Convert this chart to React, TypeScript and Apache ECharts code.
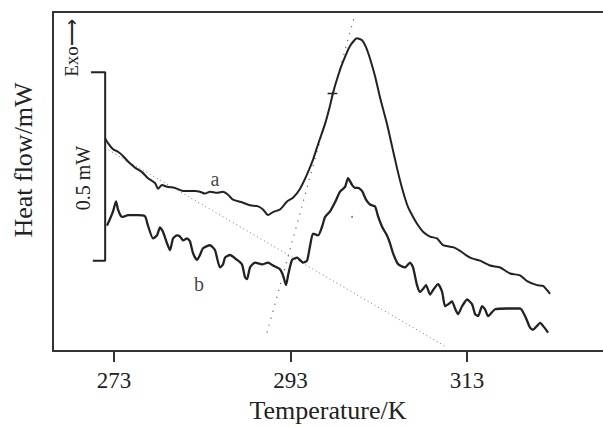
import React, { useEffect, useRef } from "react";
import * as echarts from "echarts";

// Temperature (K), heat flow (mW, arbitrary offset)
const curveA: [number, number][] = [
  [271.98, 0.565], [272.32, 0.552], [272.89, 0.536], [273.45, 0.529], [274.02, 0.518],
  [274.59, 0.503], [275.38, 0.487], [276.17, 0.475], [276.85, 0.459], [277.65, 0.446],
  [277.99, 0.431], [278.44, 0.441], [279.01, 0.436], [279.91, 0.433], [280.82, 0.425],
  [282.18, 0.425], [282.74, 0.423], [283.31, 0.418], [283.88, 0.423], [284.67, 0.420],
  [285.35, 0.423], [285.92, 0.415], [286.48, 0.402], [287.50, 0.395], [288.41, 0.387],
  [289.32, 0.384], [289.88, 0.376], [290.45, 0.361], [291.02, 0.369], [291.81, 0.376],
  [292.60, 0.397], [293.28, 0.407], [294.08, 0.431], [294.87, 0.469], [295.55, 0.508],
  [296.12, 0.549], [296.91, 0.603], [297.48, 0.652], [297.82, 0.686], [298.38, 0.730],
  [298.95, 0.768], [299.74, 0.810], [300.53, 0.830], [301.10, 0.825], [301.55, 0.807],
  [302.01, 0.776], [302.57, 0.730], [303.14, 0.673], [303.93, 0.603], [304.50, 0.544],
  [305.07, 0.485], [305.63, 0.433], [306.20, 0.389], [306.54, 0.371], [307.33, 0.338],
  [308.01, 0.317], [308.81, 0.304], [309.60, 0.299], [310.28, 0.281], [311.41, 0.276],
  [312.21, 0.266], [313.34, 0.248], [314.47, 0.240], [315.61, 0.227], [316.74, 0.222],
  [317.87, 0.206], [319.00, 0.201], [319.80, 0.186], [320.93, 0.175], [321.61, 0.173],
  [322.40, 0.152],
];

const curveB: [number, number][] = [
  [272.21, 0.333], [272.55, 0.351], [272.89, 0.371], [273.23, 0.397], [273.45, 0.376],
  [273.79, 0.358], [274.02, 0.356], [274.59, 0.361], [275.72, 0.361], [276.51, 0.358],
  [276.85, 0.333], [277.42, 0.299], [277.87, 0.307], [278.21, 0.328], [278.55, 0.317],
  [279.01, 0.286], [279.35, 0.268], [279.69, 0.299], [280.14, 0.307], [280.48, 0.304],
  [280.82, 0.294], [281.27, 0.299], [281.61, 0.291], [281.95, 0.260], [282.40, 0.242],
  [282.74, 0.255], [283.08, 0.273], [283.88, 0.281], [284.44, 0.268], [285.01, 0.222],
  [285.35, 0.230], [285.58, 0.248], [286.14, 0.255], [286.94, 0.242], [287.50, 0.230],
  [287.84, 0.196], [288.07, 0.191], [288.41, 0.222], [288.98, 0.235], [289.77, 0.230],
  [290.45, 0.235], [291.02, 0.227], [291.81, 0.217], [292.15, 0.201], [292.49, 0.175],
  [292.72, 0.201], [293.17, 0.242], [293.74, 0.248], [294.42, 0.235], [294.87, 0.240],
  [295.21, 0.279], [295.55, 0.312], [296.12, 0.307], [296.57, 0.330], [296.91, 0.356],
  [297.48, 0.371], [298.04, 0.395], [298.61, 0.423], [299.18, 0.436], [299.52, 0.459],
  [299.97, 0.441], [300.31, 0.433], [300.65, 0.433], [301.10, 0.425], [301.55, 0.402],
  [302.01, 0.389], [302.57, 0.384], [302.91, 0.358], [303.37, 0.330], [303.93, 0.307],
  [304.27, 0.286], [304.61, 0.260], [305.07, 0.235], [305.41, 0.227], [305.97, 0.222],
  [306.54, 0.235], [306.88, 0.222], [307.33, 0.175], [307.67, 0.157], [308.01, 0.165],
  [308.35, 0.175], [308.81, 0.150], [309.15, 0.162], [309.71, 0.178], [310.17, 0.157],
  [310.51, 0.119], [310.85, 0.124], [311.30, 0.132], [311.64, 0.113], [311.98, 0.098],
  [312.43, 0.119], [313.00, 0.137], [313.57, 0.124], [313.91, 0.098], [314.25, 0.093],
  [314.70, 0.119], [315.04, 0.111], [315.38, 0.093], [316.17, 0.111], [317.53, 0.113],
  [319.00, 0.113], [319.57, 0.093], [320.14, 0.062], [320.48, 0.057], [320.93, 0.067],
  [321.27, 0.075], [321.61, 0.067], [322.18, 0.049],
];

// Dotted construction lines (baseline and onset tangent)
const baselineLine: [number, number][] = [[271.98, 0.539], [310.51, 0.013]];
const onsetLine: [number, number][] = [[290.34, 0.049], [300.19, 0.8845]];

// 0.5 mW scale bar
const scaleBar: [number, number][] = [[270.4, 0.74], [272.0, 0.74], [272.0, 0.24], [270.6, 0.24]];
const crossMark: [number, number][] = [[297.2, 0.684], [298.3, 0.684]];
const stray: [number, number][] = [[299.97, 0.356]];

const labelA: [number, number] = [284.44, 0.456];
const labelB: [number, number] = [282.63, 0.178];

const xTicks = [273, 293, 313];
const X_MIN = 266.09;
const X_MAX = 328.4;
const Y_MIN = 0;
const Y_MAX = 0.9;

const FONT = "'Liberation Serif', 'Times New Roman', serif";
const INK = "#222";

export default function App() {
  const ref = useRef<HTMLDivElement>(null);

  useEffect(() => {
    document.body.style.margin = "0";
    if (!ref.current) return;
    const chart = echarts.init(ref.current, null, { renderer: "svg" });
    chart.setOption({
      animation: false,
      backgroundColor: "#fff",
      grid: { left: 53, top: 12, right: 0, bottom: 67 },
      xAxis: [
        {
          type: "value",
          min: X_MIN,
          max: X_MAX,
          position: "bottom",
          splitLine: { show: false },
          axisLine: { show: true, lineStyle: { color: "#333", width: 2 } },
          axisTick: {
            show: true,
            customValues: xTicks,
            length: 11,
            inside: false,
            lineStyle: { color: "#333", width: 2 },
          },
          axisLabel: {
            customValues: xTicks,
            margin: 18,
            fontSize: 23,
            fontFamily: FONT,
            color: INK,
            formatter: (v: number) => String(Math.round(v)),
          },
          name: "Temperature/K",
          nameLocation: "middle",
          nameGap: 43,
          nameTextStyle: { fontSize: 26, fontFamily: FONT, color: INK },
        },
        {
          type: "value",
          min: X_MIN,
          max: X_MAX,
          position: "top",
          splitLine: { show: false },
          axisLine: { show: true, lineStyle: { color: "#333", width: 2 } },
          axisTick: { show: false },
          axisLabel: { show: false },
        },
      ],
      yAxis: {
        type: "value",
        min: Y_MIN,
        max: Y_MAX,
        splitLine: { show: false },
        axisLine: { show: true, lineStyle: { color: "#333", width: 2 } },
        axisTick: { show: false },
        axisLabel: { show: false },
      },
      series: [
        {
          type: "line",
          data: baselineLine,
          symbol: "none",
          lineStyle: { color: "#777", width: 1, type: [1, 3] },
          silent: true,
        },
        {
          type: "line",
          data: onsetLine,
          symbol: "none",
          lineStyle: { color: "#666", width: 1.2, type: [1.2, 6] },
          silent: true,
        },
        {
          type: "line",
          data: curveA,
          symbol: "none",
          smooth: 0.2,
          lineStyle: { color: INK, width: 2 },
          silent: true,
        },
        {
          type: "line",
          data: curveB,
          symbol: "none",
          smooth: 0.2,
          lineStyle: { color: INK, width: 2.3 },
          silent: true,
        },
        {
          type: "line",
          data: scaleBar,
          symbol: "none",
          lineStyle: { color: INK, width: 2 },
          silent: true,
        },
        {
          type: "line",
          data: crossMark,
          symbol: "none",
          lineStyle: { color: INK, width: 1.5 },
          silent: true,
        },
        {
          type: "scatter",
          data: stray,
          symbolSize: 2,
          itemStyle: { color: "#666" },
          silent: true,
        },
        {
          type: "scatter",
          data: [
            { value: labelA, label: { formatter: "a" } },
            { value: labelB, label: { formatter: "b" } },
          ],
          symbolSize: 0,
          label: {
            show: true,
            position: "inside",
            fontSize: 20,
            fontFamily: FONT,
            color: "#111",
          },
          silent: true,
        },
      ],
      graphic: [
        {
          type: "text",
          x: 23,
          y: 160,
          rotation: Math.PI / 2,
          style: {
            text: "Heat flow/mW",
            fontSize: 26,
            fontFamily: FONT,
            fill: INK,
            align: "center",
            verticalAlign: "middle",
          },
        },
        {
          type: "text",
          x: 83,
          y: 178,
          rotation: Math.PI / 2,
          style: {
            text: "0.5 mW",
            fontSize: 20,
            fontFamily: FONT,
            fill: INK,
            align: "center",
            verticalAlign: "middle",
          },
        },
        {
          type: "text",
          x: 71,
          y: 48,
          rotation: Math.PI / 2,
          style: {
            text: "Exo\u27F6",
            fontSize: 19,
            fontFamily: FONT,
            fill: INK,
            align: "center",
            verticalAlign: "middle",
          },
        },
      ],
    });
    return () => chart.dispose();
  }, []);

  return (
    <div
      ref={ref}
      style={{ width: 603, height: 428, position: "absolute", left: 0, top: 0 }}
    />
  );
}
